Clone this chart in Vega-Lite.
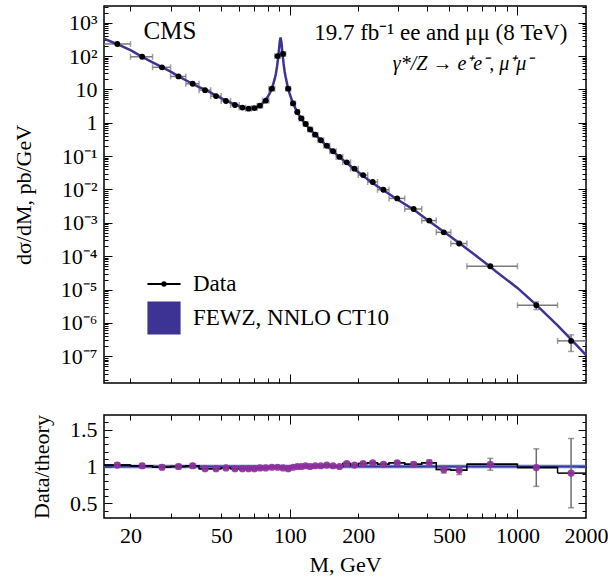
{
  "$schema": "https://vega.github.io/schema/vega-lite/v6.json",
  "autosize": {"type": "pad"},
  "padding": {"left": 11, "top": 4, "right": 3, "bottom": 5},
  "bounds": "flush",
  "spacing": 32,
  "background": "white",
  "datasets": {
    "bins": [
      {"lo":15,"hi":20,"m":17.5,"v":230,"vlo":223.2,"vhi":236.8,"r":1.02,"rlo":0.99,"rhi":1.05},
      {"lo":20,"hi":25,"m":22.5,"v":95,"vlo":92.2,"vhi":97.8,"r":1.01,"rlo":0.98,"rhi":1.04},
      {"lo":25,"hi":30,"m":27.5,"v":46,"vlo":44.6,"vhi":47.4,"r":0.99,"rlo":0.96,"rhi":1.02},
      {"lo":30,"hi":35,"m":32.5,"v":24.5,"vlo":23.76,"vhi":25.24,"r":1.0,"rlo":0.97,"rhi":1.03},
      {"lo":35,"hi":40,"m":37.5,"v":14.8,"vlo":14.36,"vhi":15.24,"r":1.01,"rlo":0.98,"rhi":1.04},
      {"lo":40,"hi":45,"m":42.5,"v":9.5,"vlo":9.3,"vhi":9.7,"r":0.97,"rlo":0.95,"rhi":0.99},
      {"lo":45,"hi":50,"m":47.5,"v":6.3,"vlo":6.17,"vhi":6.43,"r":0.97,"rlo":0.95,"rhi":0.99},
      {"lo":50,"hi":55,"m":52.5,"v":4.5,"vlo":4.41,"vhi":4.59,"r":0.98,"rlo":0.96,"rhi":1.0},
      {"lo":55,"hi":60,"m":57.5,"v":3.4,"vlo":3.33,"vhi":3.47,"r":0.97,"rlo":0.95,"rhi":0.99},
      {"lo":60,"hi":64,"m":62,"v":2.85,"vlo":2.79,"vhi":2.91,"r":0.97,"rlo":0.95,"rhi":0.99},
      {"lo":64,"hi":68,"m":66,"v":2.65,"vlo":2.595,"vhi":2.705,"r":0.97,"rlo":0.95,"rhi":0.99},
      {"lo":68,"hi":72,"m":70,"v":2.75,"vlo":2.693,"vhi":2.807,"r":0.97,"rlo":0.95,"rhi":0.99},
      {"lo":72,"hi":76,"m":74,"v":3.25,"vlo":3.184,"vhi":3.316,"r":0.98,"rlo":0.96,"rhi":1.0},
      {"lo":76,"hi":81,"m":78.5,"v":4.6,"vlo":4.506,"vhi":4.694,"r":0.98,"rlo":0.96,"rhi":1.0},
      {"lo":81,"hi":86,"m":83.5,"v":10.5,"vlo":10.34,"vhi":10.66,"r":0.99,"rlo":0.975,"rhi":1.005},
      {"lo":86,"hi":91,"m":88.5,"v":100,"vlo":98.5,"vhi":101.5,"r":0.99,"rlo":0.975,"rhi":1.005},
      {"lo":91,"hi":96,"m":93.5,"v":116,"vlo":114.2,"vhi":117.8,"r":0.98,"rlo":0.965,"rhi":0.995},
      {"lo":96,"hi":101,"m":98.5,"v":10.5,"vlo":10.34,"vhi":10.66,"r":0.97,"rlo":0.955,"rhi":0.985},
      {"lo":101,"hi":106,"m":103.5,"v":3.8,"vlo":3.742,"vhi":3.858,"r":0.99,"rlo":0.975,"rhi":1.005},
      {"lo":106,"hi":110,"m":108,"v":2.1,"vlo":2.068,"vhi":2.132,"r":1.0,"rlo":0.985,"rhi":1.015},
      {"lo":110,"hi":115,"m":112.5,"v":1.35,"vlo":1.33,"vhi":1.37,"r":1.0,"rlo":0.985,"rhi":1.015},
      {"lo":115,"hi":120,"m":117.5,"v":0.92,"vlo":0.906,"vhi":0.934,"r":1.01,"rlo":0.995,"rhi":1.025},
      {"lo":120,"hi":126,"m":123,"v":0.63,"vlo":0.6205,"vhi":0.6395,"r":1.0,"rlo":0.985,"rhi":1.015},
      {"lo":126,"hi":133,"m":129.5,"v":0.44,"vlo":0.4335,"vhi":0.4465,"r":1.01,"rlo":0.995,"rhi":1.025},
      {"lo":133,"hi":141,"m":137,"v":0.3,"vlo":0.2955,"vhi":0.3045,"r":1.01,"rlo":0.995,"rhi":1.025},
      {"lo":141,"hi":150,"m":145.5,"v":0.205,"vlo":0.202,"vhi":0.208,"r":1.02,"rlo":1.005,"rhi":1.035},
      {"lo":150,"hi":160,"m":155,"v":0.14,"vlo":0.1379,"vhi":0.1421,"r":1.01,"rlo":0.995,"rhi":1.025},
      {"lo":160,"hi":171,"m":165.5,"v":0.095,"vlo":0.0936,"vhi":0.0964,"r":1.0,"rlo":0.985,"rhi":1.015},
      {"lo":171,"hi":185,"m":178,"v":0.065,"vlo":0.0637,"vhi":0.0663,"r":1.04,"rlo":1.02,"rhi":1.06},
      {"lo":185,"hi":200,"m":192.5,"v":0.042,"vlo":0.0412,"vhi":0.0428,"r":1.02,"rlo":1.0,"rhi":1.04},
      {"lo":200,"hi":220,"m":210,"v":0.027,"vlo":0.0265,"vhi":0.0275,"r":1.04,"rlo":1.02,"rhi":1.06},
      {"lo":220,"hi":243,"m":231.5,"v":0.0168,"vlo":0.01648,"vhi":0.01712,"r":1.05,"rlo":1.03,"rhi":1.07},
      {"lo":243,"hi":273,"m":258,"v":0.0098,"vlo":0.00956,"vhi":0.01004,"r":1.03,"rlo":1.005,"rhi":1.055},
      {"lo":273,"hi":320,"m":296.5,"v":0.0054,"vlo":0.00527,"vhi":0.00553,"r":1.05,"rlo":1.025,"rhi":1.075},
      {"lo":320,"hi":380,"m":350,"v":0.0026,"vlo":0.002524,"vhi":0.002676,"r":1.03,"rlo":1.0,"rhi":1.06},
      {"lo":380,"hi":440,"m":410,"v":0.00117,"vlo":0.001125,"vhi":0.001215,"r":1.05,"rlo":1.01,"rhi":1.09},
      {"lo":440,"hi":510,"m":475,"v":0.00052,"vlo":0.000493,"vhi":0.000547,"r":0.96,"rlo":0.91,"rhi":1.01},
      {"lo":510,"hi":600,"m":555,"v":0.00024,"vlo":0.000225,"vhi":0.000255,"r":0.95,"rlo":0.89,"rhi":1.01},
      {"lo":600,"hi":1000,"m":760,"v":0.00005,"vlo":0.0000461,"vhi":0.0000539,"r":1.03,"rlo":0.95,"rhi":1.11},
      {"lo":1000,"hi":1500,"m":1210,"v":0.0000034,"vlo":0.00000252,"vhi":0.00000428,"r":0.985,"rlo":0.73,"rhi":1.24},
      {"lo":1500,"hi":2000,"m":1720,"v":0.00000029,"vlo":0.00000014,"vhi":0.00000044,"r":0.91,"rlo":0.44,"rhi":1.38}
    ],
    "theory": [
      {"m":15.3,"v":330},{"m":17.5,"v":226},{"m":20,"v":150},{"m":22.5,"v":94},{"m":25,"v":65},
      {"m":27.5,"v":46.5},{"m":30,"v":34},{"m":32.5,"v":24.5},{"m":35,"v":18.8},{"m":37.5,"v":14.6},
      {"m":40,"v":11.7},{"m":42.5,"v":9.8},{"m":45,"v":8.0},{"m":47.5,"v":6.5},{"m":50,"v":5.5},
      {"m":52.5,"v":4.6},{"m":55,"v":4.0},{"m":57.5,"v":3.5},{"m":60,"v":3.15},{"m":62,"v":2.93},
      {"m":64,"v":2.78},{"m":66,"v":2.72},{"m":68,"v":2.75},{"m":70,"v":2.85},{"m":72,"v":3.05},
      {"m":74,"v":3.35},{"m":76,"v":3.85},{"m":78,"v":4.6},{"m":80,"v":5.9},{"m":82,"v":8},
      {"m":84,"v":12},{"m":86,"v":21},{"m":87,"v":30},{"m":88,"v":49},{"m":89,"v":89},
      {"m":90,"v":188},{"m":90.5,"v":274},{"m":91.2,"v":360},{"m":92,"v":255},{"m":93,"v":117},
      {"m":94,"v":60},{"m":95,"v":35},{"m":96,"v":23.5},{"m":98,"v":12},{"m":100,"v":7.3},
      {"m":102,"v":5.0},{"m":104,"v":3.6},{"m":106,"v":2.7},{"m":108,"v":2.1},{"m":110,"v":1.68},
      {"m":112.5,"v":1.33},{"m":115,"v":1.08},{"m":117.5,"v":0.9},{"m":120,"v":0.76},{"m":123,"v":0.63},
      {"m":126,"v":0.53},{"m":130,"v":0.43},{"m":137,"v":0.3},{"m":145,"v":0.205},{"m":155,"v":0.139},
      {"m":165,"v":0.095},{"m":178,"v":0.0625},{"m":192,"v":0.041},{"m":210,"v":0.026},{"m":230,"v":0.016},
      {"m":258,"v":0.0095},{"m":296,"v":0.0051},{"m":350,"v":0.0025},{"m":410,"v":0.00112},{"m":475,"v":0.00054},
      {"m":555,"v":0.00025},{"m":700,"v":0.000075},{"m":760,"v":0.0000485},{"m":800,"v":0.0000362},{"m":1000,"v":0.0000112},
      {"m":1210,"v":0.00000347},{"m":1500,"v":0.00000084},{"m":1720,"v":0.000000322},{"m":2000,"v":0.000000109}
    ],
    "band": [
      {"m":15,"lo":0.975,"hi":1.025,"c":1},
      {"m":2000,"lo":0.975,"hi":1.025,"c":1}
    ]
  },
  "config": {
    "view": {"stroke": "black", "strokeWidth": 1.5},
    "axis": {
      "domain": false, "grid": false, "tickColor": "black", "tickWidth": 1,
      "labelFont": "Liberation Serif", "labelFontSize": 22, "labelColor": "black",
      "titleFont": "Liberation Serif", "titleFontSize": 22, "titleFontWeight": "normal", "titleColor": "black",
      "labelFlush": false, "labelOverlap": false
    }
  },
  "vconcat": [
    {
      "width": 482,
      "height": 377,
      "resolve": {"axis": {"x": "independent", "y": "independent"}},
      "layer": [
        {
          "data": {"name": "bins"},
          "mark": {"type": "rule", "color": "#7a7a7a", "strokeWidth": 1.5, "clip": true},
          "encoding": {
            "x": {"field": "lo", "type": "quantitative", "scale": {"type": "log", "domain": [15.3, 2000], "nice": false},
                  "axis": {"orient": "bottom", "values": [20,30,40,50,60,70,80,90,200,300,400,500,600,700,800,900], "tickSize": -5, "labels": false, "title": null}},
            "x2": {"field": "hi"},
            "y": {"field": "v", "type": "quantitative", "scale": {"type": "log", "domain": [1.585e-8, 3162], "nice": false},
                  "axis": {"orient": "left", "values": [2e-8,3e-8,4e-8,5e-8,6e-8,7e-8,8e-8,9e-8,2e-7,3e-7,4e-7,5e-7,6e-7,7e-7,8e-7,9e-7,2e-6,3e-6,4e-6,5e-6,6e-6,7e-6,8e-6,9e-6,2e-5,3e-5,4e-5,5e-5,6e-5,7e-5,8e-5,9e-5,2e-4,3e-4,4e-4,5e-4,6e-4,7e-4,8e-4,9e-4,0.002,0.003,0.004,0.005,0.006,0.007,0.008,0.009,0.02,0.03,0.04,0.05,0.06,0.07,0.08,0.09,0.2,0.3,0.4,0.5,0.6,0.7,0.8,0.9,2,3,4,5,6,7,8,9,20,30,40,50,60,70,80,90,200,300,400,500,600,700,800,900,2000,3000], "tickSize": -4, "labels": false, "title": null}}
          }
        },
        {
          "data": {"name": "bins"},
          "mark": {"type": "tick", "orient": "vertical", "color": "#7a7a7a", "size": 6, "thickness": 1.5, "clip": true},
          "encoding": {
            "x": {"field": "lo", "type": "quantitative", "scale": {"type": "log", "domain": [15.3, 2000], "nice": false},
                  "axis": {"orient": "top", "values": [20,30,40,50,60,70,80,90,200,300,400,500,600,700,800,900], "tickSize": -5, "labels": false, "title": null}},
            "y": {"field": "v", "type": "quantitative", "scale": {"type": "log", "domain": [1.585e-8, 3162], "nice": false},
                  "axis": {"orient": "right", "values": [2e-8,3e-8,4e-8,5e-8,6e-8,7e-8,8e-8,9e-8,2e-7,3e-7,4e-7,5e-7,6e-7,7e-7,8e-7,9e-7,2e-6,3e-6,4e-6,5e-6,6e-6,7e-6,8e-6,9e-6,2e-5,3e-5,4e-5,5e-5,6e-5,7e-5,8e-5,9e-5,2e-4,3e-4,4e-4,5e-4,6e-4,7e-4,8e-4,9e-4,0.002,0.003,0.004,0.005,0.006,0.007,0.008,0.009,0.02,0.03,0.04,0.05,0.06,0.07,0.08,0.09,0.2,0.3,0.4,0.5,0.6,0.7,0.8,0.9,2,3,4,5,6,7,8,9,20,30,40,50,60,70,80,90,200,300,400,500,600,700,800,900,2000,3000], "tickSize": -4, "labels": false, "title": null}}
          }
        },
        {
          "data": {"name": "bins"},
          "mark": {"type": "tick", "orient": "vertical", "color": "#7a7a7a", "size": 6, "thickness": 1.5, "clip": true},
          "encoding": {
            "x": {"field": "hi", "type": "quantitative", "scale": {"type": "log", "domain": [15.3, 2000], "nice": false},
                  "axis": {"orient": "bottom", "values": [100, 1000], "tickSize": -9, "labels": false, "title": null}},
            "y": {"field": "v", "type": "quantitative", "scale": {"type": "log", "domain": [1.585e-8, 3162], "nice": false},
                  "axis": {"orient": "left", "values": [1e-7,1e-6,1e-5,1e-4,0.001,0.01,0.1,1,10,100,1000], "tickSize": -8, "labelPadding": 15,
                           "labelExpr": "['10⁻⁷','10⁻⁶','10⁻⁵','10⁻⁴','10⁻³','10⁻²','10⁻¹','1','10','10²','10³'][round(log(datum.value)/LN10)+7]",
                           "title": "dσ/dM, pb/GeV", "titlePadding": 25}}
          }
        },
        {
          "data": {"name": "theory"},
          "mark": {"type": "line", "color": "#3d3394", "strokeWidth": 2.5, "clip": true},
          "encoding": {
            "x": {"field": "m", "type": "quantitative", "scale": {"type": "log", "domain": [15.3, 2000], "nice": false},
                  "axis": {"orient": "top", "values": [100, 1000], "tickSize": -9, "labels": false, "title": null}},
            "y": {"field": "v", "type": "quantitative", "scale": {"type": "log", "domain": [1.585e-8, 3162], "nice": false},
                  "axis": {"orient": "right", "values": [1e-7,1e-6,1e-5,1e-4,0.001,0.01,0.1,1,10,100,1000], "tickSize": -8, "labels": false, "title": null}}
          }
        },
        {
          "data": {"name": "bins"},
          "mark": {"type": "rule", "color": "#7a7a7a", "strokeWidth": 1.5, "clip": true},
          "encoding": {
            "x": {"field": "m", "type": "quantitative", "scale": {"type": "log", "domain": [15.3, 2000], "nice": false}, "axis": null},
            "y": {"field": "vlo", "type": "quantitative", "scale": {"type": "log", "domain": [1.585e-8, 3162], "nice": false}, "axis": null},
            "y2": {"field": "vhi"}
          }
        },
        {
          "data": {"name": "bins"},
          "mark": {"type": "tick", "orient": "horizontal", "color": "#7a7a7a", "size": 6, "thickness": 1.5, "clip": true},
          "encoding": {
            "x": {"field": "m", "type": "quantitative", "scale": {"type": "log", "domain": [15.3, 2000], "nice": false}, "axis": null},
            "y": {"field": "vlo", "type": "quantitative", "scale": {"type": "log", "domain": [1.585e-8, 3162], "nice": false}, "axis": null}
          }
        },
        {
          "data": {"name": "bins"},
          "mark": {"type": "tick", "orient": "horizontal", "color": "#7a7a7a", "size": 6, "thickness": 1.5, "clip": true},
          "encoding": {
            "x": {"field": "m", "type": "quantitative", "scale": {"type": "log", "domain": [15.3, 2000], "nice": false}, "axis": null},
            "y": {"field": "vhi", "type": "quantitative", "scale": {"type": "log", "domain": [1.585e-8, 3162], "nice": false}, "axis": null}
          }
        },
        {
          "data": {"name": "bins"},
          "mark": {"type": "point", "filled": true, "color": "black", "size": 34, "opacity": 1, "clip": true},
          "encoding": {
            "x": {"field": "m", "type": "quantitative", "scale": {"type": "log", "domain": [15.3, 2000], "nice": false}, "axis": null},
            "y": {"field": "v", "type": "quantitative", "scale": {"type": "log", "domain": [1.585e-8, 3162], "nice": false}, "axis": null}
          }
        },
        {
          "data": {"values": []},
          "mark": {"type": "point", "filled": true, "opacity": 1},
          "encoding": {
            "color": {"datum": "Data", "type": "nominal",
                      "scale": {"domain": ["Data", "FEWZ, NNLO CT10"], "range": ["#000000", "#3d3394"]},
                      "legend": {"orient": "none", "legendX": 43, "legendY": 261, "title": null, "padding": 0,
                                 "symbolSize": 1100, "symbolStrokeWidth": 0, "symbolOpacity": 1,
                                 "labelFont": "Liberation Serif", "labelFontSize": 23, "labelColor": "black",
                                 "labelOffset": 12, "rowPadding": 5, "labelLimit": 400}},
            "shape": {"datum": "Data", "type": "nominal",
                      "scale": {"domain": ["Data", "FEWZ, NNLO CT10"], "range": ["M-1,-0.06H1V0.06H-1Z M-0.17,0A0.17,0.17 0 1,1 0.17,0A0.17,0.17 0 1,1 -0.17,0Z", "square"]},
                      "legend": {"orient": "none", "legendX": 43, "legendY": 261, "title": null, "padding": 0,
                                 "symbolSize": 1100, "symbolStrokeWidth": 0, "symbolOpacity": 1,
                                 "labelFont": "Liberation Serif", "labelFontSize": 23, "labelColor": "black",
                                 "labelOffset": 12, "rowPadding": 5, "labelLimit": 400}}
          }
        },
        {
          "data": {"values": [{"m": 29.8, "v": 580, "t": "CMS"}]},
          "mark": {"type": "text", "font": "Liberation Serif", "fontSize": 25, "align": "center", "baseline": "middle", "color": "black"},
          "encoding": {
            "x": {"field": "m", "type": "quantitative", "scale": {"type": "log", "domain": [15.3, 2000], "nice": false}, "axis": null},
            "y": {"field": "v", "type": "quantitative", "scale": {"type": "log", "domain": [1.585e-8, 3162], "nice": false}, "axis": null},
            "text": {"field": "t"}
          }
        },
        {
          "data": {"values": [{"m": 1656, "v": 490, "t": "19.7 fb⁻¹ ee and μμ (8 TeV)"}]},
          "mark": {"type": "text", "font": "Liberation Serif", "fontSize": 23, "align": "right", "baseline": "middle", "color": "black"},
          "encoding": {
            "x": {"field": "m", "type": "quantitative", "scale": {"type": "log", "domain": [15.3, 2000], "nice": false}, "axis": null},
            "y": {"field": "v", "type": "quantitative", "scale": {"type": "log", "domain": [1.585e-8, 3162], "nice": false}, "axis": null},
            "text": {"field": "t"}
          }
        },
        {
          "data": {"values": [{"m": 577, "v": 56, "t": "γ*/Z → e⁺e⁻, μ⁺μ⁻"}]},
          "mark": {"type": "text", "font": "Liberation Serif", "fontSize": 20, "fontStyle": "italic", "align": "center", "baseline": "middle", "color": "black"},
          "encoding": {
            "x": {"field": "m", "type": "quantitative", "scale": {"type": "log", "domain": [15.3, 2000], "nice": false}, "axis": null},
            "y": {"field": "v", "type": "quantitative", "scale": {"type": "log", "domain": [1.585e-8, 3162], "nice": false}, "axis": null},
            "text": {"field": "t"}
          }
        }
      ]
    },
    {
      "width": 482,
      "height": 103,
      "resolve": {"axis": {"x": "independent", "y": "independent"}},
      "layer": [
        {
          "data": {"name": "band"},
          "mark": {"type": "area", "color": "#4656b8", "opacity": 0.85, "clip": true},
          "encoding": {
            "x": {"field": "m", "type": "quantitative", "scale": {"type": "log", "domain": [15.3, 2000], "nice": false},
                  "axis": {"orient": "bottom", "values": [20,30,40,50,60,70,80,90,200,300,400,500,600,700,800,900], "tickSize": -5, "labels": false, "title": null}},
            "y": {"field": "lo", "type": "quantitative", "scale": {"domain": [0.3, 1.7], "nice": false, "zero": false},
                  "axis": {"orient": "left", "values": [0.4,0.6,0.7,0.8,0.9,1.1,1.2,1.3,1.4,1.6], "tickSize": -4, "labels": false, "title": null}},
            "y2": {"field": "hi"}
          }
        },
        {
          "data": {"name": "band"},
          "mark": {"type": "line", "color": "#2f3c9c", "strokeWidth": 1.2, "clip": true},
          "encoding": {
            "x": {"field": "m", "type": "quantitative", "scale": {"type": "log", "domain": [15.3, 2000], "nice": false},
                  "axis": {"orient": "top", "values": [20,30,40,50,60,70,80,90,200,300,400,500,600,700,800,900], "tickSize": -5, "labels": false, "title": null}},
            "y": {"field": "c", "type": "quantitative", "scale": {"domain": [0.3, 1.7], "nice": false, "zero": false},
                  "axis": {"orient": "right", "values": [0.4,0.6,0.7,0.8,0.9,1.1,1.2,1.3,1.4,1.6], "tickSize": -4, "labels": false, "title": null}}
          }
        },
        {
          "data": {"name": "bins"},
          "mark": {"type": "rule", "color": "black", "strokeWidth": 1.5, "clip": true},
          "encoding": {
            "x": {"field": "lo", "type": "quantitative", "scale": {"type": "log", "domain": [15.3, 2000], "nice": false},
                  "axis": {"orient": "bottom", "values": [100, 1000], "tickSize": -9, "labels": false, "title": null}},
            "x2": {"field": "hi"},
            "y": {"field": "r", "type": "quantitative", "scale": {"domain": [0.3, 1.7], "nice": false, "zero": false},
                  "axis": {"orient": "left", "values": [0.5, 1, 1.5], "tickSize": -8, "labelPadding": 15, "format": "~g",
                           "title": "Data/theory", "titlePadding": 16}}
          }
        },
        {
          "data": {"name": "bins"},
          "mark": {"type": "line", "interpolate": "step-after", "color": "black", "strokeWidth": 1.5, "clip": true},
          "encoding": {
            "x": {"field": "lo", "type": "quantitative", "scale": {"type": "log", "domain": [15.3, 2000], "nice": false},
                  "axis": {"orient": "top", "values": [100, 1000], "tickSize": -9, "labels": false, "title": null}},
            "y": {"field": "r", "type": "quantitative", "scale": {"domain": [0.3, 1.7], "nice": false, "zero": false},
                  "axis": {"orient": "right", "values": [0.5, 1, 1.5], "tickSize": -8, "labels": false, "title": null}}
          }
        },
        {
          "data": {"name": "bins"},
          "mark": {"type": "rule", "color": "#6e6e6e", "strokeWidth": 1.5, "clip": true},
          "encoding": {
            "x": {"field": "m", "type": "quantitative", "scale": {"type": "log", "domain": [15.3, 2000], "nice": false},
                  "axis": {"orient": "bottom", "values": [20, 50, 100, 200, 500, 1000, 2000], "ticks": false, "labelPadding": 7, "format": "d",
                           "title": "M, GeV", "titlePadding": 8}},
            "y": {"field": "rlo", "type": "quantitative", "scale": {"domain": [0.3, 1.7], "nice": false, "zero": false}, "axis": null},
            "y2": {"field": "rhi"}
          }
        },
        {
          "data": {"name": "bins"},
          "mark": {"type": "tick", "orient": "horizontal", "color": "#6e6e6e", "size": 6, "thickness": 1.5, "clip": true},
          "encoding": {
            "x": {"field": "m", "type": "quantitative", "scale": {"type": "log", "domain": [15.3, 2000], "nice": false}, "axis": null},
            "y": {"field": "rlo", "type": "quantitative", "scale": {"domain": [0.3, 1.7], "nice": false, "zero": false}, "axis": null}
          }
        },
        {
          "data": {"name": "bins"},
          "mark": {"type": "tick", "orient": "horizontal", "color": "#6e6e6e", "size": 6, "thickness": 1.5, "clip": true},
          "encoding": {
            "x": {"field": "m", "type": "quantitative", "scale": {"type": "log", "domain": [15.3, 2000], "nice": false}, "axis": null},
            "y": {"field": "rhi", "type": "quantitative", "scale": {"domain": [0.3, 1.7], "nice": false, "zero": false}, "axis": null}
          }
        },
        {
          "data": {"name": "bins"},
          "mark": {"type": "point", "filled": true, "color": "#8e2f9f", "size": 52, "opacity": 0.9, "clip": true},
          "encoding": {
            "x": {"field": "m", "type": "quantitative", "scale": {"type": "log", "domain": [15.3, 2000], "nice": false}, "axis": null},
            "y": {"field": "r", "type": "quantitative", "scale": {"domain": [0.3, 1.7], "nice": false, "zero": false}, "axis": null}
          }
        }
      ]
    }
  ]
}
